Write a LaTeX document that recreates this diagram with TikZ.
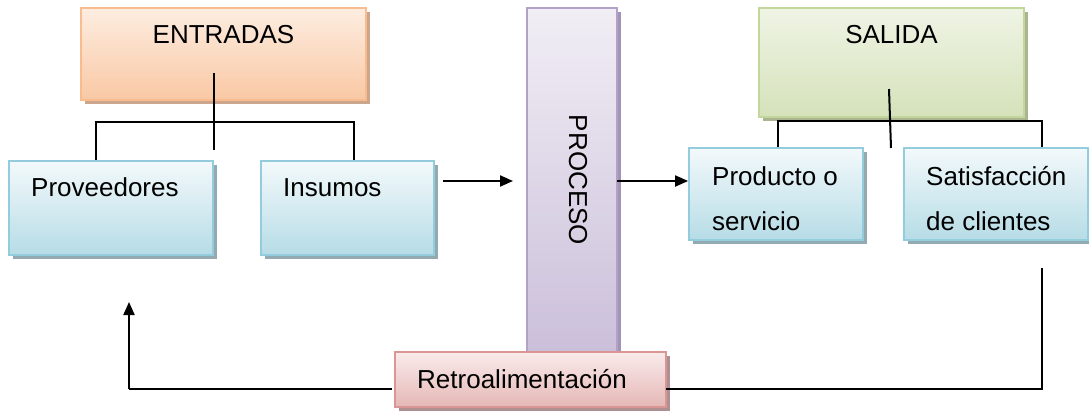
\documentclass[tikz,border=0pt]{standalone}
\usepackage{fontspec}
\setmainfont{Liberation Sans}
\usetikzlibrary{shadows,arrows.meta}
\definecolor{entTop}{HTML}{FDEDE1}
\definecolor{entBot}{HTML}{F9C8A4}
\definecolor{entLine}{HTML}{F9BC8F}
\definecolor{entSh}{HTML}{CBA68C}
\definecolor{bluTop}{HTML}{F3F9FB}
\definecolor{bluBot}{HTML}{B6DCE6}
\definecolor{bluLine}{HTML}{93CDDD}
\definecolor{bluSh}{HTML}{93AAB3}
\definecolor{purTop}{HTML}{F1EEF5}
\definecolor{purBot}{HTML}{CBBFDA}
\definecolor{purLine}{HTML}{B3A2C7}
\definecolor{purSh}{HTML}{A294B5}
\definecolor{grnTop}{HTML}{EFF4E5}
\definecolor{grnBot}{HTML}{D5E2BA}
\definecolor{grnLine}{HTML}{C3D69B}
\definecolor{grnSh}{HTML}{AAB48F}
\definecolor{pnkTop}{HTML}{FAEBEB}
\definecolor{pnkBot}{HTML}{E5B7B6}
\definecolor{pnkLine}{HTML}{D99694}
\definecolor{pnkSh}{HTML}{AE9090}
\tikzset{
  box/.style={rectangle, inner sep=0pt, line width=1.8pt},
  boxent/.style={box, draw=entLine, top color=entTop, bottom color=entBot,
    drop shadow={shadow xshift=4pt, shadow yshift=-4pt, opacity=1, fill=entSh}},
  boxblu/.style={box, draw=bluLine, top color=bluTop, bottom color=bluBot,
    drop shadow={shadow xshift=4pt, shadow yshift=-4pt, opacity=1, fill=bluSh}},
  boxpur/.style={box, draw=purLine, top color=purTop, bottom color=purBot,
    drop shadow={shadow xshift=4pt, shadow yshift=-4pt, opacity=1, fill=purSh}},
  boxgrn/.style={box, draw=grnLine, top color=grnTop, bottom color=grnBot,
    drop shadow={shadow xshift=4pt, shadow yshift=-4pt, opacity=1, fill=grnSh}},
  boxpnk/.style={box, draw=pnkLine, top color=pnkTop, bottom color=pnkBot,
    drop shadow={shadow xshift=4pt, shadow yshift=-4pt, opacity=1, fill=pnkSh}},
  txt/.style={inner sep=0pt, font=\fontsize{26}{45}\selectfont, align=left},
  conn/.style={line width=2pt, black},
  arr/.style={conn, -{Triangle[length=13pt,width=11pt]}},
}
\begin{document}
\begin{tikzpicture}[x=1pt,y=-1pt]
\useasboundingbox (0,0) rectangle (1089,412);
% boxes
\node[boxent, minimum width=285pt, minimum height=92pt] (ent) at (223.5,54) {};
\node[boxblu, minimum width=204pt, minimum height=94pt] (prov) at (111,208) {};
\node[boxblu, minimum width=173pt, minimum height=94pt] (ins) at (347.5,208) {};
\node[boxpur, minimum width=90pt, minimum height=344pt] (proc) at (572,180) {};
\node[boxgrn, minimum width=265pt, minimum height=109pt] (sal) at (891.5,62.5) {};
\node[boxblu, minimum width=174pt, minimum height=92pt] (prod) at (776,194) {};
\node[boxblu, minimum width=184pt, minimum height=92pt] (sat) at (996,194) {};
\node[boxpnk, minimum width=271pt, minimum height=55pt] (ret) at (530.5,379.5) {};
% texts
\node[txt, anchor=base] (tent) at (223.5,44) {ENTRADAS};
\node[txt, anchor=base west] (tprov) at (31,196) {Proveedores};
\node[txt, anchor=base west] (tins) at (283,196) {Insumos};
\node[txt, rotate=-90] (tproc) at (578,180) {PROCESO};
\node[txt, anchor=base] (tsal) at (891.5,44) {SALIDA};
\node[txt, anchor=base west] (tprod) at (712,230) {Producto o\\servicio};
\node[txt, anchor=base west] (tsat) at (926,230) {Satisfacción\\de clientes};
\node[txt, anchor=base west] (tret) at (417,388) {Retroalimentación};
% entradas bracket
\coordinate (e1) at (214,73);
\coordinate (e2) at (214,150);
\coordinate (eL) at (96,122);
\coordinate (eR) at (354,122);
\draw[conn] (e1) -- (e2);
\draw[conn] (eL |- prov.north) -- (eL) -- (eR) -- (eR |- ins.north);
% salida bracket
\coordinate (s1) at (889,89);
\coordinate (s2) at (891,148);
\coordinate (sL) at (778,121);
\coordinate (sR) at (1042,121);
\draw[conn] (s1) -- (s2);
\draw[conn] (sL |- prod.north) -- (sL) -- (sR) -- (sR |- sat.north);
% process arrows
\coordinate (a1s) at (443,181);
\coordinate (a1e) at (513,181);
\draw[arr] (a1s) -- (a1e);
\coordinate (a2s) at (617,181);
\draw[arr] (a2s) -- (prod.west |- a2s);
% feedback
\coordinate (fL) at (392,389);
\coordinate (fLc) at (129,389);
\coordinate (fTip) at (129,302);
\draw[conn] (fL) -- (fLc);
\draw[arr] (fLc) -- (fTip);
\coordinate (fR) at (666,389);
\coordinate (fRc) at (1042,389);
\coordinate (fTop) at (1042,268);
\draw[conn] (fR) -- (fRc) -- (fTop);
\end{tikzpicture}
\end{document}
